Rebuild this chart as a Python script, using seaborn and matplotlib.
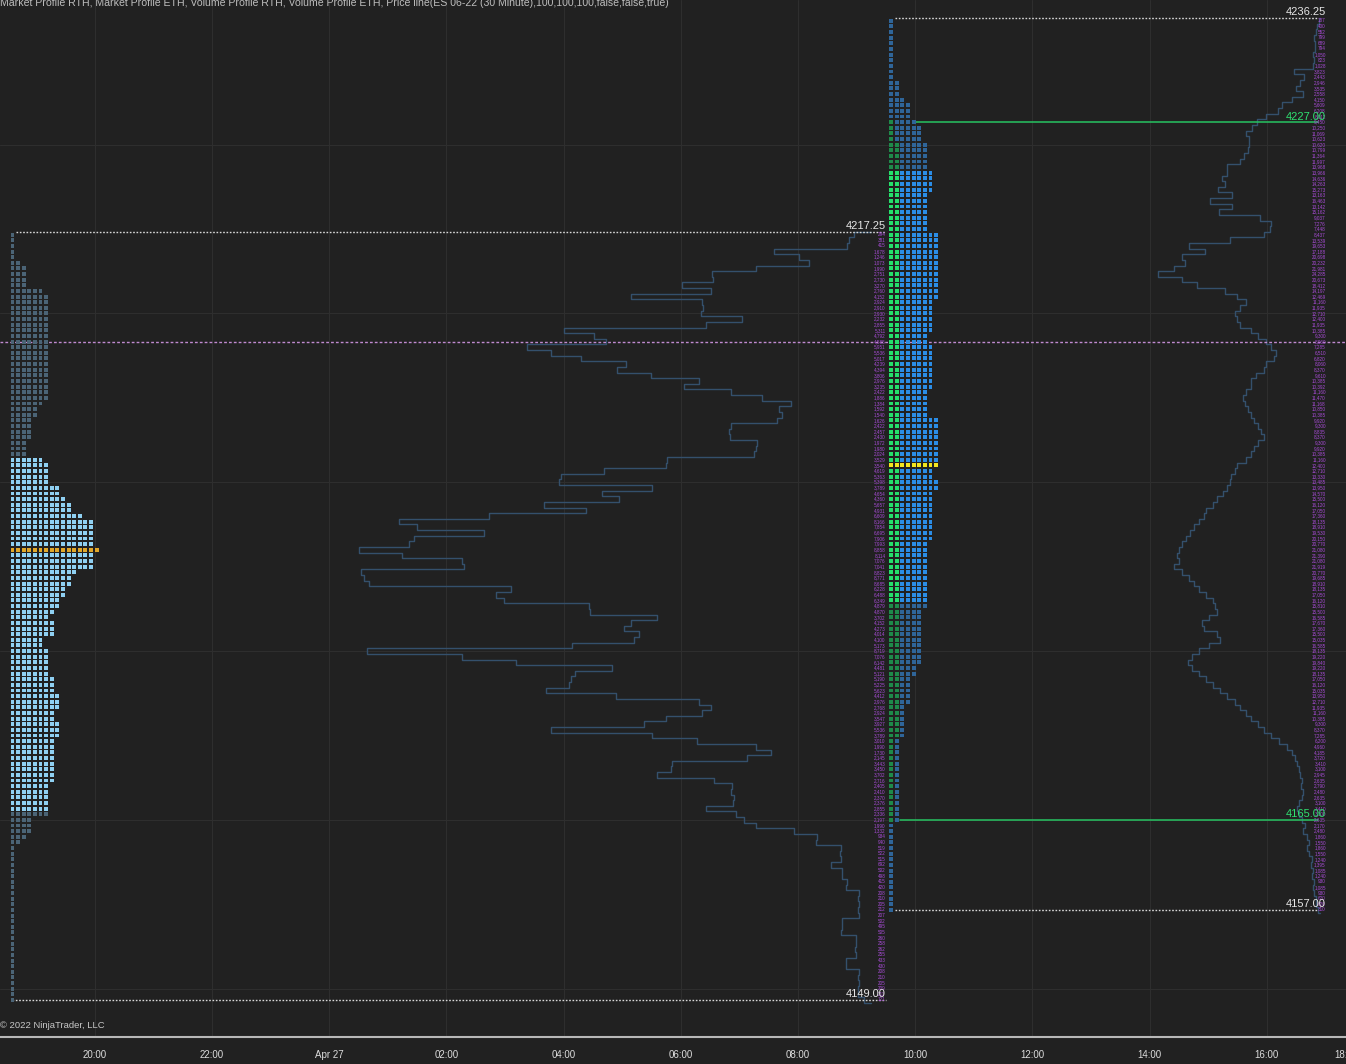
import numpy as np
import pandas as pd
import seaborn as sns
import matplotlib.pyplot as plt

sns.set_style('dark')
plt.rcParams['font.family'] = ['Liberation Sans', 'DejaVu Sans']

# ---------------- data ----------------
title = ('Market Profile RTH, Market Profile ETH, Volume Profile RTH, Volume Profile ETH, '
         'Price line(ES 06-22 (30 Minute),100,100,100,false,false,true)')
copyright_txt = '\u00a9 2022 NinjaTrader, LLC'

# hours since Apr 26 00:00 (session gap 17:00-18:00 is skipped on the chart)
tick_hours = [20, 22, 24, 26, 28, 30, 32, 34, 36, 38, 40, 41.35]
tick_labels = ['20:00', '22:00', 'Apr 27', '02:00', '04:00', '06:00', '08:00',
               '10:00', '12:00', '14:00', '16:00', '18:00']

# ETH session, rows of 0.5 pt going down from eth_top
eth_top = 4217.0
eth_tpo = [1, 1, 1, 1, 1, 2, 3, 3, 3, 3,
           6, 7, 7, 7, 7, 7, 7, 7, 7, 7,
           7, 7, 7, 7, 7, 7, 7, 7, 7, 7,
           6, 5, 5, 4, 4, 4, 4, 3, 3, 3,
           6, 7, 7, 7, 7, 9, 9, 10, 11, 11,
           13, 15, 15, 15, 15, 15, 16, 15, 15, 15,
           12, 11, 11, 10, 10, 9, 9, 8, 7, 8,
           8, 8, 6, 6, 7, 7, 7, 7, 7, 8,
           8, 8, 9, 9, 9, 8, 8, 9, 9, 9,
           8, 8, 8, 8, 8, 8, 8, 8, 7, 7,
           7, 7, 7, 7, 4, 4, 4, 3, 2, 1,
           1, 1, 1, 1, 1, 1, 1, 1, 1, 1,
           1, 1, 1, 1, 1, 1, 1, 1, 1, 1,
           1, 1, 1, 1, 1, 1, 1]
eth_vol = [294, 381, 415, 1678, 1246, 1073, 1990, 2751, 2730, 3270,
           2760, 4152, 2924, 2910, 2930, 2232, 2855, 5311, 4792, 4585,
           5951, 5536, 5017, 4239, 4394, 3806, 2976, 3235, 2422, 1886,
           1384, 1592, 1540, 1626, 2422, 2457, 2430, 1972, 1980, 2024,
           3529, 3540, 4619, 5363, 5398, 3789, 4654, 4360, 5657, 4931,
           6609, 8166, 7854, 6695, 7906, 7993, 8858, 8114, 7076, 7041,
           8823, 8771, 8685, 6228, 6488, 6349, 4879, 4870, 3702, 4152,
           4273, 4014, 4100, 5173, 8719, 7076, 6142, 4481, 5121, 5190,
           5225, 5623, 4412, 2976, 2768, 2924, 3547, 3927, 5536, 3789,
           3010, 1990, 1730, 2145, 3443, 3450, 3702, 2716, 2405, 2410,
           2370, 2376, 2855, 2336, 2197, 1990, 1332, 934, 940, 519,
           522, 515, 692, 502, 498, 415, 420, 208, 210, 205,
           212, 207, 502, 495, 505, 260, 258, 262, 255, 433,
           430, 208, 210, 205, 209, 211, 121]
eth_va_rows = (40, 102)
eth_poc_row = 56
eth_high, eth_low = 4217.25, 4149.00

# RTH session
rth_top = 4236.0
rth_tpo = [1, 1, 1, 1, 1, 1, 1, 1, 1, 1,
           1, 2, 2, 2, 3, 4, 4, 4, 5, 6,
           6, 6, 7, 7, 7, 7, 7, 8, 8, 8,
           8, 7, 7, 7, 7, 7, 7, 7, 9, 9,
           9, 9, 9, 9, 9, 9, 9, 9, 9, 9,
           8, 8, 8, 8, 8, 8, 7, 7, 8, 8,
           8, 8, 8, 8, 8, 8, 7, 7, 7, 7,
           7, 9, 9, 9, 9, 9, 9, 9, 9, 9,
           8, 8, 9, 9, 8, 8, 8, 8, 8, 8,
           8, 8, 8, 7, 7, 7, 7, 7, 7, 7,
           7, 7, 7, 7, 7, 6, 6, 6, 6, 6,
           6, 6, 6, 6, 6, 5, 5, 4, 4, 4,
           4, 4, 3, 3, 3, 3, 3, 3, 2, 2,
           2, 2, 2, 2, 2, 2, 2, 2, 2, 2,
           2, 2, 2, 1, 1, 1, 1, 1, 1, 1,
           1, 1, 1, 1, 1, 1, 1, 1, 1]
rth_vol = [187, 400, 552, 799, 689, 794, 1050, 823, 1028, 3823,
           2443, 2946, 3535, 2558, 4150, 5609, 6208, 8012, 9450, 10250,
           11069, 10623, 10620, 10799, 11364, 11997, 13968, 13966, 14636, 14263,
           15273, 13163, 16463, 13142, 15162, 9037, 7276, 7448, 8437, 13539,
           19653, 17188, 20698, 20232, 21981, 24285, 20673, 18412, 14197, 12469,
           11160, 11935, 12710, 12400, 11935, 10385, 9300, 8060, 7285, 6510,
           6820, 8060, 8370, 9610, 10385, 10392, 11160, 11470, 11168, 10850,
           10385, 9920, 9300, 8835, 8370, 9300, 9920, 10385, 11160, 12400,
           12710, 13330, 13485, 13950, 14570, 15500, 16120, 17050, 17360, 18135,
           18910, 19530, 20150, 20770, 21080, 21390, 21080, 21919, 20770, 19685,
           18910, 18135, 17050, 16120, 15810, 15500, 16585, 17670, 17360, 15500,
           15035, 16585, 18135, 19220, 19840, 19220, 18135, 17050, 16120, 15035,
           13950, 12710, 11935, 11160, 10385, 9300, 8370, 7285, 6200, 4960,
           4185, 3720, 3410, 3100, 2945, 2635, 2790, 2480, 2635, 3100,
           3410, 3100, 2635, 2170, 2480, 1860, 1550, 1860, 1550, 1240,
           1395, 1085, 1240, 930, 1085, 930, 620, 620, 310]
rth_va_rows = (27, 103)
rth_poc_row = 79
ib_rows_col0 = (18, 142)
ib_rows_col1 = (22, 127)
rth_high, rth_low = 4236.25, 4157.00
ib_high, ib_low = 4227.00, 4165.00
price_line = 4207.50

# ---------------- layout ----------------
W, H, AX_BOTTOM = 1346, 1064, 27
PX_H = 58.7                      # pixels per hour
def hx(px):
    return 20 + (px - 95) / PX_H

ROW = 0.5
COL_W = 5.62 / PX_H
eth_x0, rth_x0 = hx(12.5), hx(892.7)
eth_anchor, rth_anchor = hx(872), hx(1322)
eth_vol_per_h, rth_vol_per_h = 17.3 * PX_H, 150 * PX_H
eth_lbl_x, rth_lbl_x = hx(887), hx(1328)
y_top, y_bot = 4237.85, 4145.71

BG = '#212121'
palette = {'eth_out': '#4b6476', 'eth_va': '#8fd0f2', 'eth_poc': '#e2a729',
           'rth_out': '#2f6599', 'rth_va': '#2b8de6', 'rth_poc': '#f3e51f',
           'ib_out': '#1e8a4a', 'ib_va': '#24e06b'}

# ---------------- build TPO squares ----------------
recs = []
for i, n in enumerate(eth_tpo):
    p = eth_top - ROW * i
    in_va = eth_va_rows[0] <= i <= eth_va_rows[1]
    for c in range(n):
        k = 'eth_poc' if i == eth_poc_row else ('eth_va' if in_va else 'eth_out')
        recs.append((eth_x0 + c * COL_W, p, k))
for i, n in enumerate(rth_tpo):
    p = rth_top - ROW * i
    in_va = rth_va_rows[0] <= i <= rth_va_rows[1]
    for c in range(n):
        ib = (c == 0 and ib_rows_col0[0] <= i <= ib_rows_col0[1]) or \
             (c == 1 and ib_rows_col1[0] <= i <= ib_rows_col1[1])
        if i == rth_poc_row:
            k = 'rth_poc'
        elif ib:
            k = 'ib_va' if in_va else 'ib_out'
        else:
            k = 'rth_va' if in_va else 'rth_out'
        recs.append((rth_x0 + c * COL_W, p, k))
tpo = pd.DataFrame(recs, columns=['x', 'price', 'kind'])


def outline(top, vols, anchor, vol_per_h):
    xs, ys = [anchor], [top + ROW / 2]
    for i, v in enumerate(vols):
        p = top - ROW * i
        xl = anchor - v / vol_per_h
        xs += [xl, xl]
        ys += [p + ROW / 2, p - ROW / 2]
    xs.append(anchor)
    ys.append(top - ROW * (len(vols) - 1) - ROW / 2)
    return pd.DataFrame({'x': xs, 'y': ys})


# ---------------- plot ----------------
fig = plt.figure(figsize=(W / 100, H / 100), dpi=100, facecolor=BG)
ax = fig.add_axes([0, AX_BOTTOM / H, 1, 1 - AX_BOTTOM / H])
ax.set_facecolor(BG)
ax.set_xlim(hx(0), hx(W))
ax.set_ylim(y_bot, y_top)

# volume profile outlines
for top, vols, anc, sc in [(eth_top, eth_vol, eth_anchor, eth_vol_per_h),
                           (rth_top, rth_vol, rth_anchor, rth_vol_per_h)]:
    sns.lineplot(data=outline(top, vols, anc, sc), x='x', y='y', sort=False,
                 estimator=None, color='#34506c', lw=1, ax=ax)

# market profile squares
sns.scatterplot(data=tpo, x='x', y='price', hue='kind', palette=palette,
                marker='s', s=8, linewidth=0, legend=False, ax=ax, zorder=3)

# volume numbers beside each row
for top, vols, lx in [(eth_top, eth_vol, eth_lbl_x), (rth_top, rth_vol, rth_lbl_x)]:
    for i, v in enumerate(vols):
        ax.text(lx, top - ROW * i, f'{v:,}', ha='right', va='center',
                fontsize=3.3, color='#a94cd8', zorder=4)

# session high / low dotted lines
dot = dict(color='#d8d8d8', lw=1, ls=(0, (1.2, 1.2)), zorder=2)
ax.plot([eth_x0 + eth_tpo[0] * COL_W * 0.6, eth_lbl_x], [eth_high] * 2, **dot)
ax.plot([eth_x0, eth_lbl_x], [eth_low] * 2, **dot)
ax.plot([rth_x0 + rth_tpo[0] * COL_W * 0.6, hx(1320)], [rth_high] * 2, **dot)
ax.plot([rth_x0 + rth_tpo[-1] * COL_W * 0.6, hx(1320)], [rth_low] * 2, **dot)

# initial balance lines
ib_i_hi = int(round((rth_top - ib_high) / ROW))
ib_i_lo = int(round((rth_top - ib_low) / ROW))
ax.plot([rth_x0 + (rth_tpo[ib_i_hi] - 0.5) * COL_W, hx(1320)], [ib_high] * 2,
        color='#27c462', lw=1.1, zorder=2)
ax.plot([rth_x0 + (rth_tpo[ib_i_lo] - 0.5) * COL_W, hx(1320)], [ib_low] * 2,
        color='#27c462', lw=1.1, zorder=2)

# price line
ax.axhline(price_line, color='#c08ad0', lw=1, ls=(0, (2, 1.5)), zorder=2)

# level labels
lvl = dict(ha='right', va='bottom', fontsize=8, zorder=5)
ax.text(eth_lbl_x, eth_high + 0.1, f'{eth_high:.2f}', color='#e6e6e6', **lvl)
ax.text(eth_lbl_x, eth_low + 0.1, f'{eth_low:.2f}', color='#e6e6e6', **lvl)
ax.text(rth_lbl_x, rth_high + 0.1, f'{rth_high:.2f}', color='#e6e6e6', **lvl)
ax.text(rth_lbl_x, rth_low + 0.1, f'{rth_low:.2f}', color='#e6e6e6', **lvl)
ax.text(rth_lbl_x, ib_high + 0.05, f'{ib_high:.2f}', color='#2fe070', **lvl)
ax.text(rth_lbl_x, ib_low + 0.05, f'{ib_low:.2f}', color='#2fe070', **lvl)

# axes styling
ax.set_xticks(tick_hours, tick_labels)
ax.set_yticks([4150, 4165, 4180, 4195, 4210, 4225])
ax.set_yticklabels([])
ax.tick_params(axis='y', length=0)
ax.tick_params(axis='x', colors='#b8b8b8', labelcolor='#dcdcdc', length=4,
               width=1, labelsize=7, pad=5)
ax.grid(True, color='#2e2e2e', lw=0.8)
ax.set_axisbelow(True)
for s in ['top', 'left', 'right']:
    ax.spines[s].set_visible(False)
ax.spines['bottom'].set_color('#b8b8b8')
ax.spines['bottom'].set_linewidth(1.5)
ax.set_xlabel('')
ax.set_ylabel('')

fig.text(0, 1 - 6 / H, title, ha='left', va='baseline', fontsize=7.6, color='#bdbdbd')
fig.text(0, 1 - 1025 / H, copyright_txt, ha='left', va='center', fontsize=6.8,
         color='#c8c8c8')

fig.savefig('out.png', dpi=100, facecolor=BG)
